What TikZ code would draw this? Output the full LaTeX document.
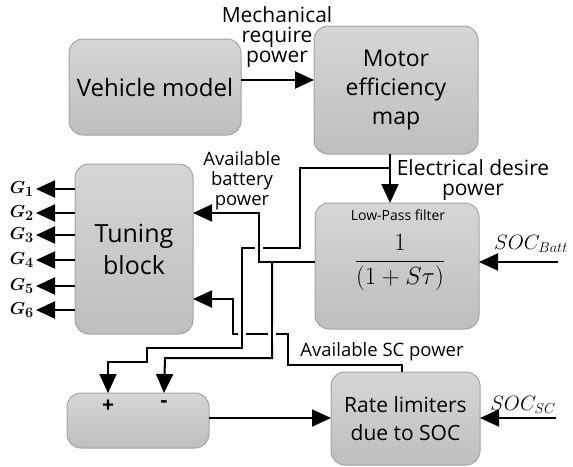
\documentclass[tikz,border=0pt]{standalone}
\usepackage{fontspec}
\setmainfont{Open Sans}
\usepackage{amsmath,bm}
\usetikzlibrary{arrows.meta,calc}
\definecolor{boxtop}{HTML}{D6D6D6}
\definecolor{boxbot}{HTML}{BEBEBE}
\definecolor{boxedge}{HTML}{A4A4A4}
\tikzset{
  blk/.style={draw=boxedge, line width=1pt, rounded corners=14pt, top color=boxtop, bottom color=boxbot, align=center, inner sep=0pt, outer sep=0pt},
  wire/.style={line width=2pt, black},
  arr/.style={wire, -{Triangle[length=19pt,width=17pt]}},
  bridge/.style={wire, preaction={draw=white, line width=8pt}},
  lbl/.style={align=center, inner sep=0pt},
}
\begin{document}
\begin{tikzpicture}[x=1pt,y=-1pt]
\useasboundingbox (0,0) rectangle (573,466);
% boxes
\node[blk, minimum width=172pt, minimum height=96pt, font=\fontsize{24}{29}\selectfont] (veh) at (155,87) {Vehicle model};
\node[blk, minimum width=164pt, minimum height=128pt, font=\fontsize{23}{29}\selectfont] (motor) at (396,90) {Motor\\efficiency\\map};
\node[blk, minimum width=118pt, minimum height=170pt, font=\fontsize{25}{32}\selectfont] (tune) at (134,249) {Tuning\\block};
\node[blk, minimum width=164pt, minimum height=126pt] (lpf) at (397,266) {};
\node[blk, minimum width=142pt, minimum height=55pt] (add) at (138,420.5) {};
\node[blk, minimum width=149pt, minimum height=93pt, font=\fontsize{21}{28}\selectfont] (rate) at (405.5,418.5) {Rate limiters\\due to SOC};
% box contents
\node[lbl, font=\fontsize{14}{16}\selectfont] (lpft) at (398,215) {Low-Pass filter};
\node[lbl, font=\fontsize{25}{28}\selectfont] (frac) at (400,263) {$\displaystyle\frac{1}{(1+S\tau)}$};
\node[lbl, font=\fontsize{21}{20}\selectfont\bfseries] (plus) at (108,406) {+};
\node[lbl, font=\fontsize{21}{20}\selectfont\bfseries] (minus) at (164,404) {-};
% labels
\node[lbl, font=\fontsize{21}{20}\selectfont] (mech) at (277,37) {Mechanical\\require\\power};
\node[lbl, font=\fontsize{18.5}{20}\selectfont] (avb) at (242,181) {Available\\battery\\power};
\node[lbl, font=\fontsize{21}{19.5}\selectfont] (elec) at (473,180) {Electrical desire\\power};
\node[lbl, font=\fontsize{18.5}{20}\selectfont] (avsc) at (382,352) {Available SC power};
\node[lbl, font=\fontsize{22}{22}\selectfont] (socb) at (531,244) {$SOC_{Batt}$};
\node[lbl, font=\fontsize{21}{21}\selectfont] (socs) at (523,405) {$SOC_{SC}$};
% helper coordinates
\coordinate (mechy) at (0,80);
\coordinate (ex) at (390,0);
\coordinate (e1) at (390,168);
\coordinate (fy) at (0,262);
\coordinate (b1) at (259,262);
\coordinate (b2) at (259,213);
\coordinate (m1) at (272,262);
\coordinate (scx) at (402,0);
\coordinate (sc1) at (0,299);
\coordinate (addy) at (0,418);
\coordinate (socbin) at (558,262);
\coordinate (socsin) at (556,418);
% main arrows
\draw[arr] (veh.east |- mechy) -- (motor.west |- mechy);
\draw[arr] (motor.south -| ex) -- (lpf.north -| ex);
% electrical desire power -> +
\draw[arr] (e1) -- (300,168) -- (300,248) -- (242,248) -- (242,348) -- (147,348) -- (147,362) -- (108,362) -- (add.north -| plus);
% available battery power
\draw[arr] (lpf.west |- fy) -- (b1) -- (b2) -- (tune.east |- b2);
% available SC power
\draw[arr] (rate.north -| scx) -- (402,365) -- (288,365) -- (288,334) -- (233,334) -- (233,299) -- (tune.east |- sc1);
% minus input
\draw[arr] (m1) -- (272,358) -- (165,358) -- (add.north -| minus);
% crossings
\draw[bridge] (259,240) -- (259,256);
\draw[bridge] (242,326) -- (242,342);
\draw[bridge] (272,326) -- (272,342);
% adder -> rate limiter
\draw[arr] (add.east |- addy) -- (rate.west |- addy);
% SOC inputs
\draw[arr] (socbin) -- (lpf.east |- socbin);
\draw[arr] (socsin) -- (rate.east |- socsin);
% G outputs
\foreach \i/\yy in {1/189,2/213,3/235,4/260,5/286,6/310}{
  \coordinate (g\i) at (36,\yy);
  \draw[arr] (tune.west |- g\i) -- (g\i);
  \node[lbl, font=\fontsize{19}{19}\selectfont, anchor=east] (gl\i) at (34,\yy) {$\bm{G_{\i}}$};
}
\end{tikzpicture}
\end{document}
